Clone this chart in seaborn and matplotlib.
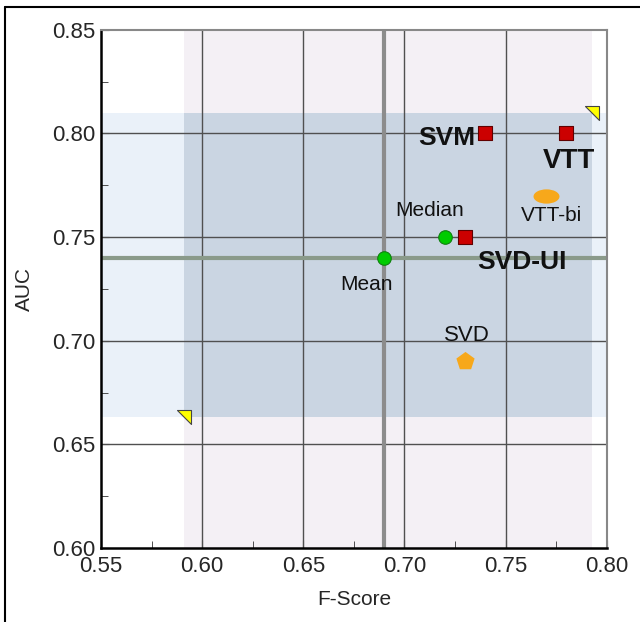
import numpy as np
import pandas as pd
import seaborn as sns
import matplotlib.pyplot as plt
from matplotlib.path import Path
from matplotlib.lines import Line2D
from matplotlib.transforms import Affine2D

# Datos de los puntos
names = ["Mean", "Median", "SVD-UI", "SVM", "VTT", "VTT-bi", "SVD"]
fscore = [0.69, 0.72, 0.73, 0.74, 0.78, 0.77, 0.73]
auc = [0.74, 0.75, 0.75, 0.80, 0.80, 0.77, 0.69]
kind = ["avg", "avg", "model", "model", "model", "alt", "alt"]

# Bandas sombreadas (limites)
band_x = [0.591, 0.7925]
band_y = [0.663, 0.81]
mean_x = 0.69
mean_y = 0.74

df = pd.DataFrame({"name": names, "F-Score": fscore, "AUC": auc, "kind": kind})

sns.set_style("white")
plt.rcParams["font.family"] = ["Liberation Sans", "DejaVu Sans"]

fig = plt.figure(figsize=(6.4, 6.22), dpi=100)
ax = fig.add_axes([0.158, 0.119, 0.79, 0.833])
ax.set_xlim(0.55, 0.80)
ax.set_ylim(0.60, 0.85)

# Bandas
ax.axhspan(band_y[0], band_y[1], color="#eaf1f9", zorder=0, lw=0)
ax.axvspan(band_x[0], band_x[1], color="#f4f0f5", zorder=0, lw=0)
ax.fill_between(band_x, band_y[0], band_y[1], color="#cad5e2", zorder=0.5, lw=0)

# Rejilla
for v in np.arange(0.60, 0.80, 0.05):
    ax.axvline(v, color="#505050", lw=1, zorder=1)
for v in np.arange(0.65, 0.85, 0.05):
    ax.axhline(v, color="#505050", lw=1, zorder=1)

# Lineas de la media
ax.axvline(mean_x, color="#8c8c8c", lw=3, zorder=2)
ax.axhline(mean_y, color="#8a9a8a", lw=3, zorder=2)

# Marcadores de esquina
tri = Path([(-1, 1), (1, 1), (1, -1), (-1, 1)], [1, 2, 2, 79])
sns.scatterplot(x=band_x, y=band_y, marker=tri, s=110, color="#ffff00",
                edgecolor="#444444", linewidth=0.8, ax=ax, zorder=4)

ellipse = Path.unit_circle().transformed(Affine2D().scale(1.0, 0.55))

styles = {
    "avg": dict(marker="o", s=95, color="#00cc00", edgecolor="#108010"),
    "model": dict(marker="s", s=110, color="#cc0000", edgecolor="#600000"),
}
for k, st in styles.items():
    sub = df[df["kind"] == k]
    sns.scatterplot(data=sub, x="F-Score", y="AUC", linewidth=0.8, ax=ax,
                    zorder=5, legend=False, **st)

sub = df[df["name"] == "VTT-bi"]
sns.scatterplot(data=sub, x="F-Score", y="AUC", marker=ellipse, s=350,
                color="#f7a81b", linewidth=0, ax=ax, zorder=5)
sub = df[df["name"] == "SVD"]
sns.scatterplot(data=sub, x="F-Score", y="AUC", marker="p", s=190,
                color="#f7a81b", linewidth=0, ax=ax, zorder=5)

# Etiquetas
labels = {
    "Mean": ((-13, -19), 15, "normal"),
    "Median": ((-11, 19), 15, "normal"),
    "SVD-UI": ((41, -18), 19, "bold"),
    "SVM": ((-28, -3), 19, "bold"),
    "VTT": ((2, -20), 20, "bold"),
    "VTT-bi": ((4, -14), 15, "normal"),
    "SVD": ((1.5, 19), 16, "normal"),
}
for n, x, y in zip(names, fscore, auc):
    off, fs, fw = labels[n]
    ax.annotate(n, (x, y), xytext=off, textcoords="offset points",
                ha="center", va="center", fontsize=fs, fontweight=fw,
                color="#111111", zorder=6)

# Ejes
ax.set_xticks(np.arange(0.55, 0.801, 0.05))
ax.set_yticks(np.arange(0.60, 0.851, 0.05))
ax.set_xticks(np.arange(0.55, 0.80, 0.025), minor=True)
ax.set_yticks(np.arange(0.60, 0.85, 0.025), minor=True)
ax.set_xticklabels([f"{v:.2f}" for v in np.arange(0.55, 0.801, 0.05)])
ax.set_yticklabels([f"{v:.2f}" for v in np.arange(0.60, 0.851, 0.05)])
ax.tick_params(which="both", direction="in", labelsize=16, color="#333333",
               bottom=True, left=True)
ax.tick_params(which="major", length=6)
ax.tick_params(which="minor", length=5)
ax.tick_params(axis="x", which="major", pad=6)
ax.tick_params(axis="y", which="major", pad=4)
ax.set_xlabel("F-Score", fontsize=15, labelpad=9)
ax.set_ylabel("AUC", fontsize=15, labelpad=13)

for s in ["left", "bottom"]:
    ax.spines[s].set_color("black")
    ax.spines[s].set_linewidth(1.8)
for s in ["top", "right"]:
    ax.spines[s].set_color("#888888")
    ax.spines[s].set_linewidth(1.5)

# Marco exterior
fig.add_artist(Line2D([5 / 640, 1], [1 - 7 / 622, 1 - 7 / 622],
                      transform=fig.transFigure, color="black", lw=1.5))
fig.add_artist(Line2D([5 / 640, 5 / 640], [0, 1 - 7 / 622],
                      transform=fig.transFigure, color="black", lw=1.5))

plt.savefig("out.png", dpi=100)
plt.close()
